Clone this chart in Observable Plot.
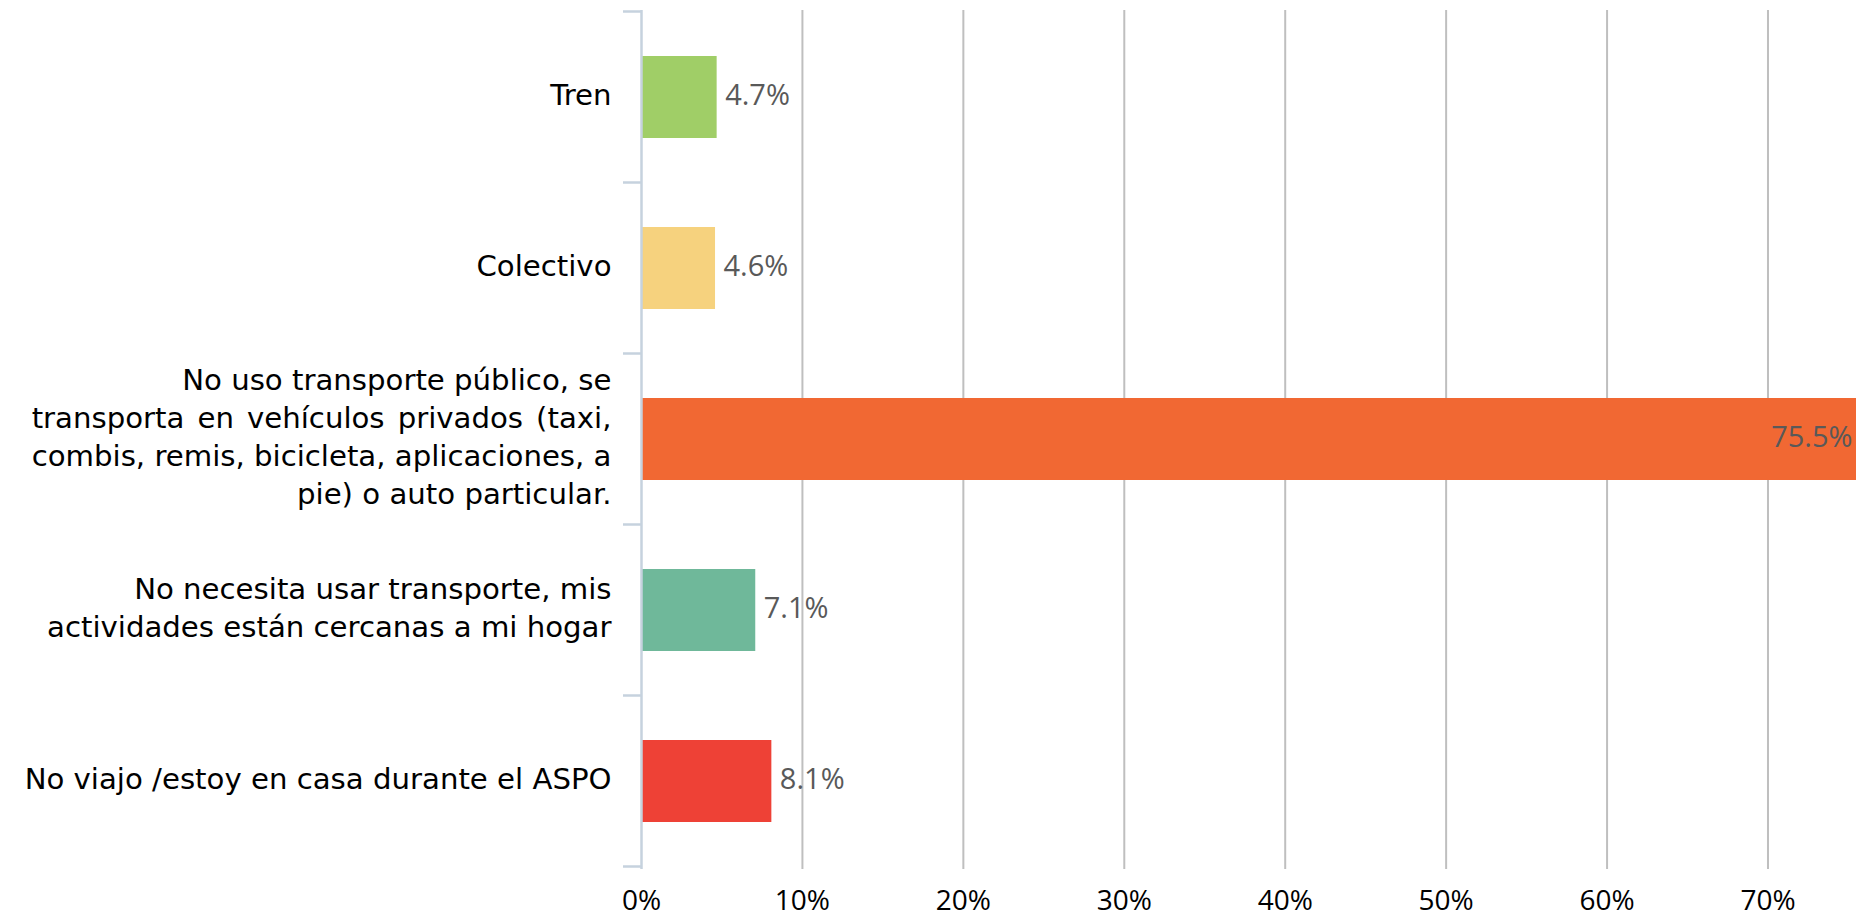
<!DOCTYPE html>
<html>
<head>
<meta charset="utf-8">
<script src="https://cdn.jsdelivr.net/npm/d3@7"></script>
<script src="https://cdn.jsdelivr.net/npm/@observablehq/plot@0.6"></script>
<style>
  html, body { margin: 0; padding: 0; background: #fff; }
  #chart { width: 1863px; height: 916px; }
</style>
</head>
<body>
<div id="chart"></div>
<script>
const categories = [
  "Tren",
  "Colectivo",
  "No uso transporte público, se\ntransporta en vehículos privados (taxi,\ncombis, remis, bicicleta, aplicaciones, a\npie) o auto particular.",
  "No necesita usar transporte, mis\nactividades están cercanas a mi hogar",
  "No viajo /estoy en casa durante el ASPO"
];
const values = [4.7, 4.6, 75.5, 7.1, 8.1];
const colors = ["#a0ce67", "#f6d27e", "#f16833", "#6fb89a", "#ee4136"];
const xTicks = [0, 10, 20, 30, 40, 50, 60, 70];
const xTickLabels = ["0%", "10%", "20%", "30%", "40%", "50%", "60%", "70%"];

const data = categories.map((c, i) => ({category: c, value: values[i]}));

// y-axis ticks at band boundaries, computed from the band scale
function bandBoundaryTicks(index, scales) {
  const y = scales.y, x = scales.x;
  const step = y.step(), bw = y.bandwidth();
  const off = (step - bw) / 2;
  const dom = y.domain();
  const ys = dom.map(c => y(c) - off);
  ys.push(y(dom[dom.length - 1]) + bw + off);
  const x0 = x(0);
  const g = d3.create("svg:g");
  g.selectAll("line").data(ys).join("line")
    .attr("x1", x0 - 18).attr("x2", x0)
    .attr("y1", d => d).attr("y2", d => d)
    .attr("stroke", "#c6d2de").attr("stroke-width", 2.5);
  return g.node();
}

const chart = Plot.plot({
  width: 1863,
  height: 916,
  marginLeft: 641,
  marginRight: 7,
  marginTop: 10,
  marginBottom: 47,
  style: {background: "#fff", overflow: "visible"},
  x: {domain: [0, 75.5], axis: null},
  y: {domain: categories, paddingInner: 0.52, paddingOuter: 0.26, axis: null},
  color: {domain: categories, range: colors},
  marks: [
    Plot.ruleX(xTicks.filter(d => d > 0), {stroke: "#bfbfbf", strokeWidth: 2}),
    Plot.barX(data, {x: "value", y: "category", fill: "category"}),
    Plot.ruleX([0], {stroke: "#c6d2de", strokeWidth: 2.5}),
    bandBoundaryTicks,
    Plot.axisX({
      ticks: xTicks,
      tickFormat: (d) => xTickLabels[xTicks.indexOf(d)],
      tickSize: 0,
      tickPadding: 21,
      fontSize: 28,
      fontFamily: "Open Sans",
      fill: "#000",
      label: null
    }),
    Plot.text(data, {
      x: () => 0, y: "category", text: "category",
      textAnchor: "end", dx: -30, dy: -5, lineAnchor: "middle", lineHeight: 1.3,
      fontSize: 29.2, fontFamily: "DejaVu Sans", fill: "#000",
      className: "catlabels"
    }),
    Plot.text(data.filter(d => d.value < 50), {
      x: "value", y: "category", text: d => d.value.toFixed(1) + "%",
      textAnchor: "start", dx: 8, dy: -2, lineAnchor: "middle",
      fontSize: 29, fontFamily: "Open Sans", fill: "#595959"
    }),
    Plot.text(data.filter(d => d.value >= 50), {
      x: "value", y: "category", text: d => d.value.toFixed(1) + "%",
      textAnchor: "end", dx: -4, dy: -2, lineAnchor: "middle",
      fontSize: 29, fontFamily: "Open Sans", fill: "#595959"
    })
  ]
});
document.getElementById("chart").appendChild(chart);

// justify the inner lines of multi-line category labels (as in the original)
d3.select(chart).selectAll(".catlabels text").each(function() {
  const spans = Array.from(this.querySelectorAll("tspan"));
  if (spans.length < 3) return;
  const widths = spans.map(s => s.getComputedTextLength());
  const target = Math.max(...widths);
  spans.forEach((s, i) => {
    if (i === 0 || i === spans.length - 1) return;
    const n = (s.textContent.match(/ /g) || []).length;
    if (n > 0) s.setAttribute("word-spacing", ((target - widths[i]) / n).toFixed(2));
  });
});
</script>
</body>
</html>
